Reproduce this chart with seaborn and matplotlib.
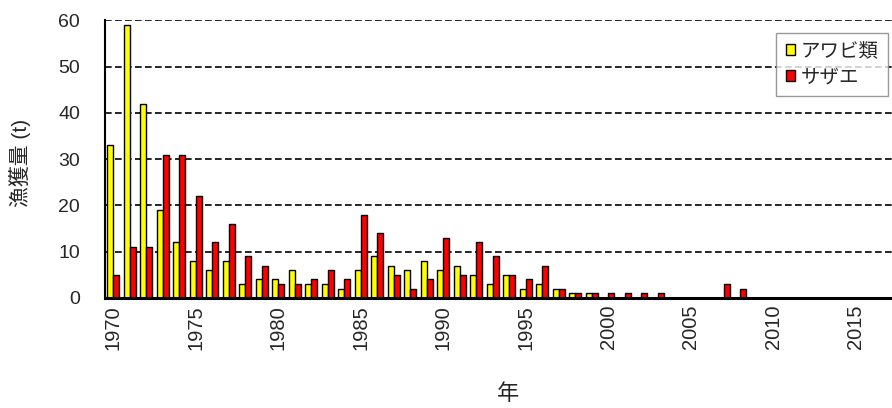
import seaborn as sns
import matplotlib.pyplot as plt
import pandas as pd

# catch data (t) per year
years = list(range(1970, 2018))
awabi = [33, 59, 42, 19, 12, 8, 6, 8, 3, 4,
         4, 6, 3, 3, 2, 6, 9, 7, 6, 8,
         6, 7, 5, 3, 5, 2, 3, 2, 1, 1,
         0, 0, 0, 0, 0, 0, 0, 0, 0, 0,
         0, 0, 0, 0, 0, 0, 0, 0]
sazae = [5, 11, 11, 31, 31, 22, 12, 16, 9, 7,
         3, 3, 4, 6, 4, 18, 14, 5, 2, 4,
         13, 5, 12, 9, 5, 4, 7, 2, 1, 1,
         1, 1, 1, 1, 0, 0, 0, 3, 2, 0,
         0, 0, 0, 0, 0, 0, 0, 0]
series = ["アワビ類", "サザエ"]
colors = ["#FFFF00", "#FF0000"]
tick_years = list(range(1970, 2018, 5))

df = pd.DataFrame({
    "年": years * 2,
    "value": awabi + sazae,
    "種類": [series[0]] * len(years) + [series[1]] * len(years),
})

sns.set_style("white")
plt.rcParams["font.family"] = ["Liberation Sans", "Noto Sans CJK JP", "DejaVu Sans"]

fig = plt.figure(figsize=(8.92, 4.08), dpi=100)
ax = fig.add_axes([105 / 892, 110 / 408, 787 / 892, 277.6 / 408])

sns.barplot(data=df, x="年", y="value", hue="種類", hue_order=series,
            palette=colors, width=0.72, edgecolor="black", linewidth=1.0,
            saturation=1, ax=ax)

ax.set_ylim(0, 60)
ax.set_yticks(range(0, 61, 10))
ax.set_xlim(-0.5, 787 / 16.5 - 0.5)
ax.set_xticks([years.index(y) for y in tick_years])
ax.set_xticklabels([str(y) for y in tick_years], rotation=90)
ax.tick_params(axis="both", length=0)
ax.tick_params(axis="y", pad=18, labelsize=14)
ax.tick_params(axis="x", pad=5, labelsize=14.5)

ax.set_axisbelow(True)
ax.yaxis.grid(True, color="black", linestyle=(0, (4, 2)), linewidth=1.2)
ax.xaxis.grid(False)

for side in ["top", "right"]:
    ax.spines[side].set_visible(False)
ax.spines["left"].set_color("black")
ax.spines["left"].set_linewidth(1.5)
ax.spines["bottom"].set_color("black")
ax.spines["bottom"].set_linewidth(2.2)

ax.set_xlabel("年", fontsize=16)
ax.xaxis.set_label_coords((508 - 105) / 787, (298.3 - 384) / 277.6)
ax.set_ylabel("漁獲量 (t)", fontsize=15)
ax.yaxis.set_label_coords((31 - 105) / 787, (298.3 - 163.5) / 277.6)

leg = ax.legend(loc="upper left", bbox_to_anchor=(776 / 892, 1 - 33 / 408),
                bbox_transform=fig.transFigure, frameon=True, fancybox=False,
                handlelength=0.5, handleheight=0.5, handletextpad=0.25,
                fontsize=14, borderpad=0.5, labelspacing=0.45, borderaxespad=0)
leg.get_frame().set_edgecolor("#808080")
leg.get_frame().set_linewidth(1.0)

fig.savefig("out.png", dpi=100)
